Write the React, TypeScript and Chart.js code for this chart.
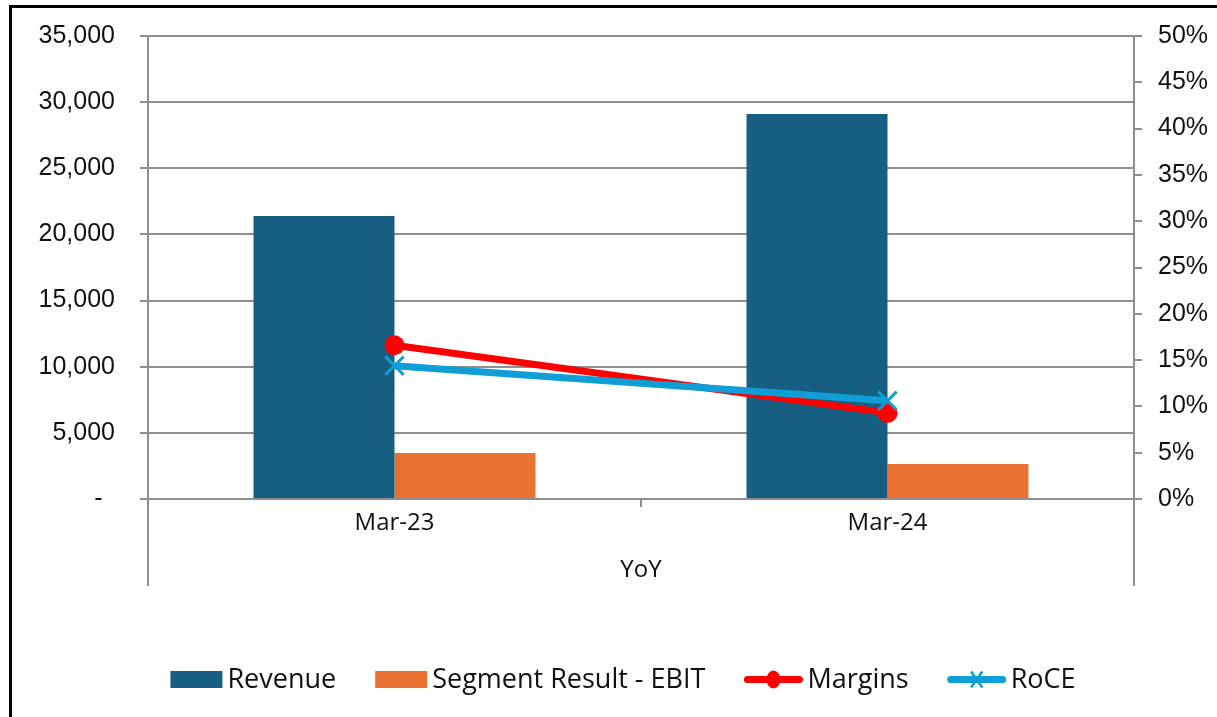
import React, { useEffect, useRef } from "react";
import { Chart, registerables } from "chart.js";

Chart.register(...registerables);

const categories = ["Mar-23", "Mar-24"];
const groupLabel = "YoY";
const revenue = [21400, 29100];
const ebit = [3480, 2650];
const margins = [0.166, 0.093];
const roce = [0.144, 0.106];
const leftTicks = { min: 0, max: 35000, step: 5000 };
const rightTicks = { min: 0, max: 0.5, step: 0.05 };

const GRID = "#8f8f8f";
const TEXT = "#111111";

const decorPlugin = {
  id: "decor",
  afterDraw(chart: any) {
    const ctx = chart.ctx as CanvasRenderingContext2D;
    const area = chart.chartArea;
    ctx.save();
    // outer border
    ctx.strokeStyle = "#000";
    ctx.lineWidth = 3;
    ctx.beginPath();
    ctx.moveTo(10.5, 720);
    ctx.lineTo(10.5, 6.5);
    ctx.lineTo(1220, 6.5);
    ctx.stroke();

    // multi-level category separators
    ctx.strokeStyle = GRID;
    ctx.lineWidth = 2;
    ctx.beginPath();
    ctx.moveTo(area.left, area.bottom);
    ctx.lineTo(area.left, 586);
    ctx.moveTo(area.right, area.bottom);
    ctx.lineTo(area.right, 586);
    ctx.stroke();

    // group label
    ctx.fillStyle = TEXT;
    ctx.font = "24px 'Open Sans'";
    ctx.textAlign = "center";
    ctx.textBaseline = "alphabetic";
    ctx.fillText(groupLabel, (area.left + area.right) / 2, 577);

    // legend
    const ds = chart.data.datasets;
    ctx.font = "27px 'Open Sans'";
    const gap = 39;
    const items = ds.map((d: any) => {
      const symW = d.type === "line" ? 58 : 52;
      const textW = ctx.measureText(d.label).width;
      return { d, symW, textW, w: symW + 5 + textW };
    });
    const total = items.reduce((s: number, it: any) => s + it.w, 0) + gap * (items.length - 1);
    let x = 623 - total / 2;
    const cy = 679.5;
    items.forEach((it: any) => {
      const d = it.d;
      if (d.type === "line") {
        ctx.strokeStyle = d.borderColor;
        ctx.lineWidth = 7;
        ctx.lineCap = "round";
        ctx.beginPath();
        ctx.moveTo(x + 3, cy);
        ctx.lineTo(x + it.symW - 3, cy);
        ctx.stroke();
        const mx = x + it.symW / 2;
        if (d.pointStyle === "circle") {
          ctx.fillStyle = d.borderColor;
          ctx.beginPath();
          ctx.ellipse(mx, cy, 7, 9, 0, 0, Math.PI * 2);
          ctx.fill();
        } else {
          ctx.lineWidth = 2.5;
          ctx.lineCap = "butt";
          const r = 8;
          ctx.beginPath();
          ctx.moveTo(mx - r * 0.7, cy - r);
          ctx.lineTo(mx + r * 0.7, cy + r);
          ctx.moveTo(mx + r * 0.7, cy - r);
          ctx.lineTo(mx - r * 0.7, cy + r);
          ctx.stroke();
        }
      } else {
        ctx.fillStyle = d.backgroundColor;
        ctx.fillRect(x, 671, it.symW, 17);
      }
      ctx.fillStyle = TEXT;
      ctx.textAlign = "left";
      ctx.textBaseline = "alphabetic";
      ctx.fillText(d.label, x + it.symW + 5, 688);
      x += it.w + gap;
    });
    ctx.restore();
  },
};

export default function App() {
  const ref = useRef<HTMLCanvasElement | null>(null);
  useEffect(() => {
    if (!ref.current) return;
    const chart = new Chart(ref.current, {
      type: "bar",
      data: {
        labels: categories,
        datasets: [
          {
            type: "bar",
            label: "Revenue",
            data: revenue,
            backgroundColor: "#175F82",
            yAxisID: "y",
            order: 2,
            barPercentage: 1,
            categoryPercentage: 0.572,
          } as any,
          {
            type: "bar",
            label: "Segment Result - EBIT",
            data: ebit,
            backgroundColor: "#E97132",
            yAxisID: "y",
            order: 2,
            barPercentage: 1,
            categoryPercentage: 0.572,
          } as any,
          {
            type: "line",
            label: "Margins",
            data: margins,
            borderColor: "#FF0000",
            backgroundColor: "#FF0000",
            borderWidth: 7,
            pointStyle: "circle",
            pointRadius: 10,
            pointBorderWidth: 0,
            pointBackgroundColor: "#FF0000",
            yAxisID: "y1",
            order: 1,
          } as any,
          {
            type: "line",
            label: "RoCE",
            data: roce,
            borderColor: "#0F9ED5",
            backgroundColor: "#0F9ED5",
            borderWidth: 7,
            pointStyle: "crossRot",
            pointRadius: 13,
            pointBorderWidth: 3,
            pointBorderColor: "#0F9ED5",
            yAxisID: "y1",
            order: 0,
          } as any,
        ],
      },
      options: {
        responsive: false,
        animation: false,
        devicePixelRatio: 1,
        layout: { padding: { top: 36, left: 0, right: 0, bottom: 0 } },
        plugins: {
          legend: { display: false },
          tooltip: { enabled: false },
        },
        scales: {
          x: {
            offset: true,
            grid: {
              offset: true,
              drawOnChartArea: false,
              drawTicks: true,
              tickLength: 8,
              color: GRID,
              lineWidth: 2,
            },
            border: { display: true, color: GRID, width: 2 },
            ticks: {
              color: TEXT,
              font: { family: "'Open Sans'", size: 24 },
              padding: 2,
              maxRotation: 0,
            },
            afterFit: (s: any) => {
              s.height = 218;
              s.paddingLeft = 0;
              s.paddingRight = 0;
            },
          },
          y: {
            position: "left",
            min: leftTicks.min,
            max: leftTicks.max,
            grid: { color: GRID, lineWidth: 2, tickLength: 8, drawTicks: true },
            border: { display: true, color: GRID, width: 2 },
            ticks: {
              stepSize: leftTicks.step,
              color: TEXT,
              font: { family: "'Liberation Sans'", size: 25 },
              padding: 25,
              callback: (v: any) => (Number(v) === 0 ? "-\u2002" : Number(v).toLocaleString("en-US")),
            },
            afterFit: (s: any) => {
              s.width = 148;
              s.paddingTop = 0;
              s.paddingBottom = 0;
            },
          },
          y1: {
            position: "right",
            min: rightTicks.min,
            max: rightTicks.max,
            grid: { drawOnChartArea: false, color: GRID, lineWidth: 2, tickLength: 8, drawTicks: true },
            border: { display: true, color: GRID, width: 2 },
            ticks: {
              stepSize: rightTicks.step,
              color: TEXT,
              font: { family: "'Liberation Sans'", size: 25 },
              padding: 16,
              callback: (v: any) => Math.round(Number(v) * 100) + "%",
            },
            afterFit: (s: any) => {
              s.width = 83;
              s.paddingTop = 0;
              s.paddingBottom = 0;
            },
          },
        },
      },
      plugins: [decorPlugin],
    } as any);
    return () => chart.destroy();
  }, []);
  return (
    <div style={{ position: "fixed", left: 0, top: 0, width: 1217, height: 717, background: "#fff" }}>
      <canvas ref={ref} width={1217} height={717} style={{ display: "block" }} />
    </div>
  );
}
